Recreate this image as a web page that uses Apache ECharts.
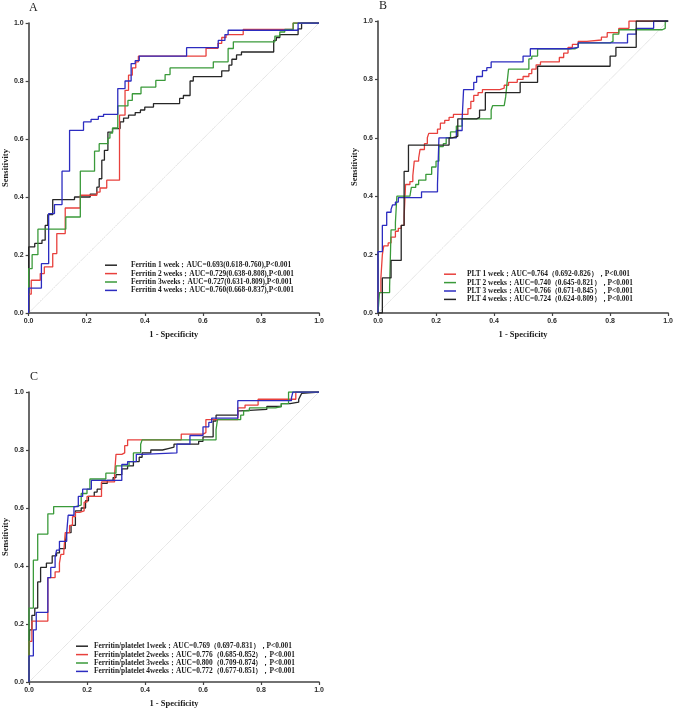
<!DOCTYPE html>
<html>
<head>
<meta charset="utf-8">
<script src="https://cdn.jsdelivr.net/npm/echarts@6/dist/echarts.min.js"></script>
<style>
  html, body { margin: 0; padding: 0; background: #fff; }
  #box { width: 676px; height: 711px; }
</style>
</head>
<body>
<div id="box"></div>
<script>
// tick labels shared by every axis
const tickLabels = ['0.0', '0.2', '0.4', '0.6', '0.8', '1.0'];

// ---- panel A : ferritin ([1 - specificity, sensitivity] at each ROC step)
const ferritinNames = ['Ferritin 1 week', 'Ferritin 2 weeks', 'Ferritin 3weeks', 'Ferritin 4 weeks'];
const ferritinLabels = [
  'Ferritin 1 week：AUC=0.693(0.618-0.760),P<0.001',
  'Ferritin 2 weeks：AUC=0.729(0.638-0.808),P<0.001',
  'Ferritin 3weeks：AUC=0.727(0.631-0.809),P<0.001',
  'Ferritin 4 weeks：AUC=0.760(0.668-0.837),P<0.001'
];
const ferritin1w = [[0,0],[0,0.228],[0.021,0.24],[0.046,0.251],[0.057,0.302],[0.066,0.339],[0.083,0.391],[0.158,0.40],[0.212,0.41],[0.235,0.434],[0.243,0.463],[0.252,0.527],[0.261,0.561],[0.273,0.624],[0.289,0.636],[0.315,0.659],[0.327,0.672],[0.344,0.682],[0.367,0.691],[0.385,0.70],[0.40,0.71],[0.43,0.722],[0.52,0.74],[0.533,0.75],[0.556,0.80],[0.567,0.815],[0.665,0.835],[0.69,0.855],[0.70,0.875],[0.716,0.89],[0.733,0.90],[0.844,0.94],[0.853,0.95],[0.865,0.96],[0.928,0.98],[0.94,1.0],[1,1]];
const ferritin2w = [[0,0],[0,0.065],[0.009,0.113],[0.04,0.136],[0.054,0.159],[0.083,0.205],[0.097,0.274],[0.126,0.362],[0.178,0.406],[0.235,0.417],[0.246,0.431],[0.269,0.458],[0.313,0.682],[0.332,0.768],[0.344,0.82],[0.357,0.845],[0.369,0.866],[0.378,0.886],[0.611,0.913],[0.652,0.93],[0.665,0.95],[0.68,0.96],[0.739,0.978],[0.911,1.0],[1,1]];
const ferritin3w = [[0,0],[0,0.153],[0.012,0.201],[0.032,0.289],[0.128,0.331],[0.178,0.489],[0.227,0.558],[0.243,0.584],[0.273,0.603],[0.28,0.62],[0.289,0.638],[0.307,0.714],[0.342,0.733],[0.357,0.756],[0.387,0.779],[0.438,0.802],[0.47,0.822],[0.487,0.845],[0.636,0.866],[0.687,0.912],[0.705,0.935],[0.848,0.955],[0.865,0.969],[0.882,0.978],[0.911,1.0],[1,1]];
const ferritin4w = [[0,0],[0,0.086],[0.044,0.17],[0.069,0.343],[0.089,0.374],[0.115,0.489],[0.141,0.63],[0.189,0.659],[0.215,0.668],[0.24,0.678],[0.258,0.685],[0.307,0.774],[0.332,0.80],[0.353,0.86],[0.367,0.87],[0.381,0.886],[0.544,0.915],[0.653,0.94],[0.676,0.96],[0.687,0.975],[0.928,1.0],[1,1]];

// ---- panel B : platelets
const pltNames = ['PLT 1 week', 'PLT 2 weeks', 'PLT 3 weeks', 'PLT 4 weeks'];
const pltLabels = [
  'PLT 1 week：AUC=0.764（0.692-0.826），P<0.001',
  'PLT 2 weeks：AUC=0.740（0.645-0.821），P<0.001',
  'PLT 3 weeks：AUC=0.766（0.671-0.845），P<0.001',
  'PLT 4 weeks：AUC=0.724（0.624-0.809），P<0.001'
];
const plt1w = [[0,0],[0,0.07],[0.01,0.12],[0.015,0.2],[0.02,0.23],[0.035,0.24],[0.045,0.26],[0.06,0.28],[0.07,0.29],[0.08,0.30],[0.09,0.33],[0.095,0.44],[0.11,0.45],[0.12,0.47],[0.125,0.52],[0.14,0.53],[0.145,0.56],[0.16,0.58],[0.17,0.60],[0.175,0.615],[0.205,0.63],[0.215,0.65],[0.23,0.66],[0.245,0.67],[0.26,0.68],[0.31,0.70],[0.32,0.725],[0.33,0.745],[0.345,0.755],[0.36,0.765],[0.42,0.77],[0.435,0.78],[0.45,0.79],[0.48,0.80],[0.5,0.81],[0.52,0.82],[0.53,0.835],[0.545,0.85],[0.56,0.86],[0.625,0.875],[0.64,0.89],[0.655,0.91],[0.67,0.92],[0.69,0.93],[0.72,0.935],[0.77,0.945],[0.79,0.96],[0.83,0.975],[0.865,1.0],[1,1]];
const plt2w = [[0,0],[0.005,0.07],[0.04,0.09],[0.045,0.285],[0.06,0.31],[0.065,0.40],[0.11,0.405],[0.115,0.43],[0.13,0.44],[0.14,0.455],[0.165,0.475],[0.185,0.50],[0.2,0.52],[0.21,0.57],[0.225,0.58],[0.235,0.60],[0.25,0.62],[0.27,0.64],[0.29,0.665],[0.39,0.695],[0.395,0.71],[0.435,0.715],[0.44,0.74],[0.445,0.79],[0.45,0.835],[0.52,0.87],[0.53,0.88],[0.55,0.905],[0.68,0.91],[0.69,0.925],[0.8,0.93],[0.81,0.955],[0.83,0.97],[0.98,0.975],[0.99,1.0],[1,1]];
const plt3w = [[0,0],[0,0.21],[0.015,0.30],[0.03,0.345],[0.045,0.355],[0.05,0.37],[0.06,0.38],[0.07,0.395],[0.15,0.415],[0.205,0.44],[0.21,0.60],[0.27,0.625],[0.29,0.665],[0.295,0.765],[0.33,0.79],[0.34,0.81],[0.36,0.83],[0.375,0.84],[0.39,0.86],[0.5,0.88],[0.525,0.905],[0.66,0.91],[0.69,0.925],[0.86,0.955],[0.89,0.975],[0.95,1.0],[1,1]];
const plt4w = [[0,0],[0.015,0.12],[0.045,0.18],[0.08,0.30],[0.09,0.485],[0.105,0.575],[0.245,0.60],[0.255,0.605],[0.275,0.665],[0.34,0.67],[0.35,0.695],[0.37,0.755],[0.49,0.79],[0.55,0.845],[0.8,0.88],[0.82,0.91],[0.89,1.0],[1,1]];

// ---- panel C : ferritin / platelet ratio
const ratioNames = ['Ferritin/platelet 1week', 'Ferritin/platelet 2weeks', 'Ferritin/platelet 3weeks', 'Ferritin/platelet 4weeks'];
const ratioLabels = [
  'Ferritin/platelet 1week：AUC=0.769（0.697-0.831），P<0.001',
  'Ferritin/platelet 2weeks：AUC=0.776（0.685-0.852），P<0.001',
  'Ferritin/platelet 3weeks：AUC=0.800（0.709-0.874），P<0.001',
  'Ferritin/platelet 4weeks：AUC=0.772（0.677-0.851），P<0.001'
];
const ratio1w = [[0,0],[0.002,0.18],[0.01,0.23],[0.02,0.255],[0.03,0.345],[0.04,0.395],[0.06,0.41],[0.08,0.435],[0.095,0.445],[0.105,0.46],[0.125,0.48],[0.13,0.515],[0.145,0.54],[0.16,0.59],[0.18,0.60],[0.195,0.625],[0.205,0.64],[0.225,0.655],[0.235,0.665],[0.25,0.685],[0.27,0.695],[0.29,0.705],[0.3,0.715],[0.32,0.735],[0.34,0.745],[0.36,0.76],[0.38,0.775],[0.39,0.79],[0.42,0.80],[0.46,0.805],[0.48,0.81],[0.5,0.82],[0.585,0.83],[0.6,0.845],[0.635,0.90],[0.645,0.92],[0.72,0.935],[0.73,0.94],[0.82,0.95],[0.87,0.96],[0.9,0.965],[0.93,0.975],[0.935,0.985],[0.94,0.995],[0.945,1.0],[1,1]];
const ratio2w = [[0,0],[0,0.14],[0.01,0.21],[0.065,0.36],[0.09,0.38],[0.105,0.41],[0.11,0.44],[0.12,0.45],[0.125,0.515],[0.14,0.54],[0.15,0.57],[0.16,0.585],[0.175,0.59],[0.19,0.62],[0.2,0.64],[0.25,0.69],[0.295,0.715],[0.3,0.785],[0.32,0.79],[0.33,0.815],[0.34,0.835],[0.525,0.855],[0.6,0.86],[0.61,0.905],[0.72,0.945],[0.745,0.955],[0.79,0.975],[0.92,1.0],[1,1]];
const ratio3w = [[0,0],[0,0.255],[0.015,0.42],[0.03,0.51],[0.065,0.58],[0.085,0.605],[0.16,0.61],[0.18,0.65],[0.2,0.665],[0.21,0.70],[0.265,0.72],[0.3,0.745],[0.345,0.76],[0.36,0.79],[0.385,0.82],[0.39,0.835],[0.645,0.87],[0.65,0.905],[0.73,0.92],[0.74,0.935],[0.76,0.945],[0.85,0.95],[0.87,0.96],[0.895,1.0],[1,1]];
const ratio4w = [[0,0],[0,0.09],[0.015,0.18],[0.025,0.24],[0.065,0.36],[0.075,0.395],[0.09,0.43],[0.095,0.455],[0.105,0.485],[0.13,0.515],[0.135,0.575],[0.155,0.605],[0.17,0.64],[0.185,0.665],[0.215,0.695],[0.32,0.75],[0.34,0.76],[0.37,0.785],[0.39,0.79],[0.51,0.82],[0.555,0.85],[0.6,0.88],[0.62,0.895],[0.63,0.91],[0.72,0.97],[0.905,0.98],[0.91,1.0],[1,1]];

const BLACK = '#262626', RED = '#e8403c', GREEN = '#3a9a3a', BLUE = '#2c2cc0';

// panel boxes in px
const panels = [
  { letter: 'A', left: 28, top: 23, width: 291, height: 290,
    names: ferritinNames, labels: ferritinLabels, data: [ferritin1w, ferritin2w, ferritin3w, ferritin4w],
    colors: [BLACK, RED, GREEN, BLUE], legend: { left: 105, top: 261, gap: 9 } },
  { letter: 'B', left: 378, top: 21, width: 292, height: 292,
    names: pltNames, labels: pltLabels, data: [plt1w, plt2w, plt3w, plt4w],
    colors: [RED, GREEN, BLUE, BLACK], legend: { left: 444, top: 270, gap: 6 } },
  { letter: 'C', left: 29, top: 392, width: 290, height: 290,
    names: ratioNames, labels: ratioLabels, data: [ratio1w, ratio2w, ratio3w, ratio4w],
    colors: [BLACK, RED, GREEN, BLUE], legend: { left: 76, top: 642, gap: 1 } }
];

const labelMap = {};
panels.forEach(p => p.names.forEach((n, i) => { labelMap[n] = p.labels[i]; }));

const axisColor = '#444';
function makeAxis(type, idx) {
  const isX = type === 'x';
  return {
    type: 'value', gridIndex: idx, min: 0, max: 1, interval: 0.2,
    name: isX ? '1 - Specificity' : 'Sensitivity',
    nameLocation: 'middle',
    nameGap: isX ? 17 : 18,
    nameRotate: isX ? 0 : 90,
    nameTextStyle: { fontFamily: 'Liberation Serif', fontWeight: 'bold', fontSize: 8.5, color: '#1a1a1a' },
    splitLine: { show: false },
    axisLine: { show: true, onZero: false, lineStyle: { color: axisColor, width: 1.6 } },
    axisTick: { show: true, length: 3, lineStyle: { color: axisColor, width: 1.2 } },
    axisLabel: {
      fontFamily: 'Liberation Sans', fontWeight: 'bold', fontSize: 7, color: '#2a2a2a', margin: 5,
      formatter: v => tickLabels[Math.round(v / 0.2)]
    }
  };
}

const option = {
  animation: false,
  backgroundColor: '#fff',
  title: panels.map(p => ({
    text: p.letter, left: p.left + 1, top: p.top - 21, padding: 0,
    textStyle: { fontFamily: 'Liberation Serif', fontWeight: 'normal', fontSize: 12, color: '#222' }
  })),
  grid: panels.map(p => ({ left: p.left, top: p.top, width: p.width, height: p.height })),
  xAxis: panels.map((p, i) => makeAxis('x', i)),
  yAxis: panels.map((p, i) => makeAxis('y', i)),
  legend: panels.map(p => ({
    data: p.names, orient: 'vertical', left: p.legend.left, top: p.legend.top,
    icon: 'rect', itemWidth: 12, itemHeight: 1.5, itemGap: 0, padding: 0,
    formatter: n => labelMap[n],
    textStyle: { fontFamily: 'Liberation Serif', fontWeight: 'bold', fontSize: 7.4, lineHeight: 8.4,
      color: '#1a1a1a', padding: [0, 0, 0, p.legend.gap] }
  })),
  series: []
};

panels.forEach((p, i) => {
  // reference diagonal
  option.series.push({
    type: 'line', xAxisIndex: i, yAxisIndex: i, data: [[0, 0], [1, 1]],
    showSymbol: false, silent: true, z: 1,
    lineStyle: { color: '#c4c4c4', width: 0.8, type: 'dotted' }
  });
  p.names.forEach((n, k) => {
    option.series.push({
      name: n, type: 'line', xAxisIndex: i, yAxisIndex: i, data: p.data[k],
      step: 'end', showSymbol: false, color: p.colors[k],
      lineStyle: { width: 1.3, color: p.colors[k] }
    });
  });
});

const chart = echarts.init(document.getElementById('box'), null, { renderer: 'canvas' });
chart.setOption(option);
</script>
</body>
</html>
